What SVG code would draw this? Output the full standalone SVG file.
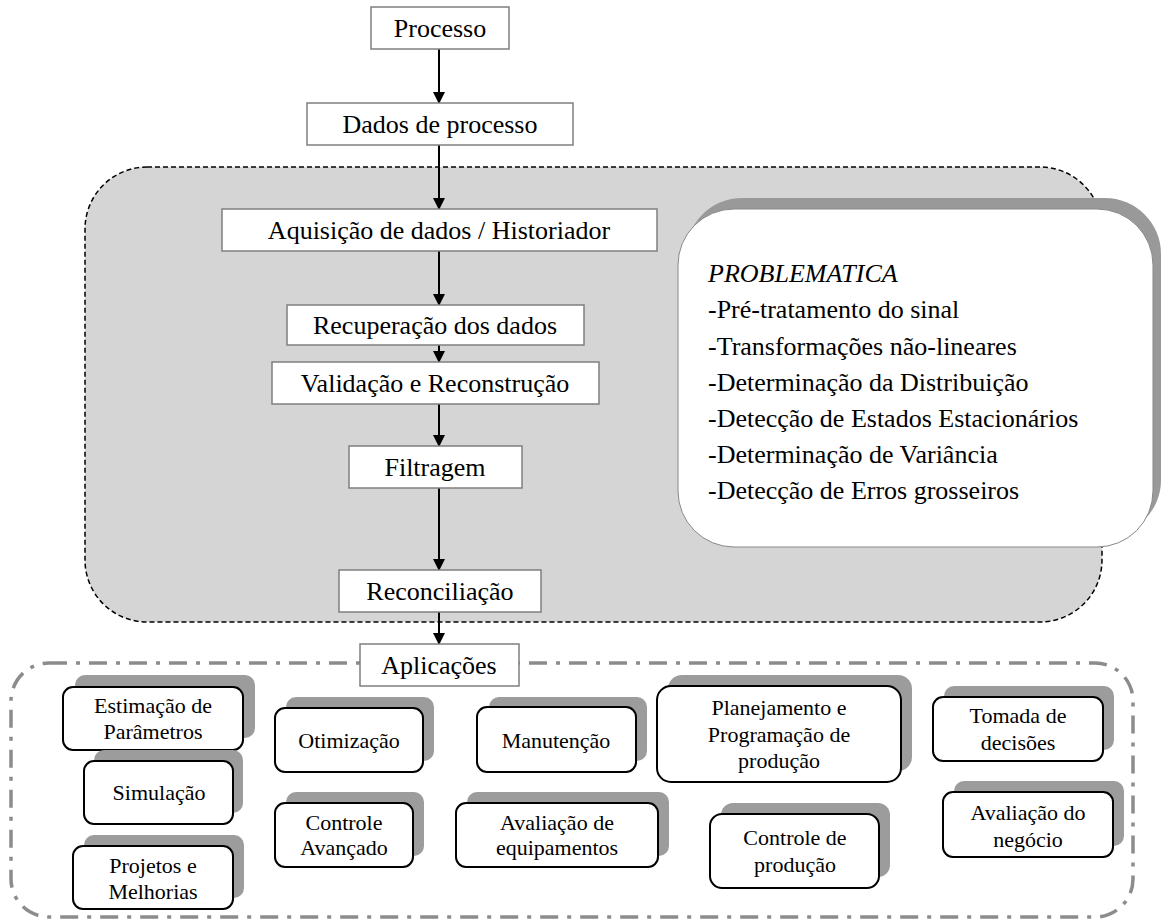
<svg xmlns="http://www.w3.org/2000/svg" width="1161" height="919" viewBox="0 0 1161 919">
<defs>
<style>
text{font-family:Tinos,"Liberation Serif","Times New Roman",serif;fill:#000}
.fb{fill:#fff;stroke:#7f7f7f;stroke-width:1.5}
.ft{font-size:26px;text-anchor:middle}
.sh{fill:#9c9c9c}
.ab{fill:#fff;stroke:#000;stroke-width:2}
.at{font-size:22px;text-anchor:middle}
.pt{font-size:26px}
.ln{stroke:#000;stroke-width:2;fill:none;marker-end:url(#head)}
</style>
<marker id="head" markerWidth="12" markerHeight="14" refX="11" refY="6" orient="auto" markerUnits="userSpaceOnUse" viewBox="0 0 12 12"><path d="M0,0 L12,6 L0,12 Z" fill="#000"/></marker>
</defs>
<rect width="1161" height="919" fill="#fff"/>
<!-- shaded processing zone and applications frame -->
<rect x="85" y="167" width="1017" height="455" rx="62" fill="#d5d5d5" stroke="#000" stroke-width="1.5" stroke-dasharray="5 3"/>
<rect x="11" y="663" width="1122" height="254" rx="38" fill="none" stroke="#8c8c8c" stroke-width="3.5" stroke-dasharray="18 9 4 9"/>
<g id="connectors">
<line class="ln" x1="439" y1="49" x2="439" y2="103"/>
<line class="ln" x1="439" y1="145" x2="439" y2="209"/>
<line class="ln" x1="439" y1="251" x2="439" y2="305"/>
<line class="ln" x1="439" y1="345" x2="439" y2="362"/>
<line class="ln" x1="439" y1="404" x2="439" y2="446"/>
<line class="ln" x1="439" y1="488" x2="439" y2="570"/>
<line class="ln" x1="439" y1="612" x2="439" y2="644"/>
</g>
<!-- main flow -->
<g id="processo"><rect class="fb" x="371" y="7" width="138" height="42"/><text class="ft" x="440" y="37">Processo</text></g>
<g id="dados-processo"><rect class="fb" x="307" y="103" width="266" height="42"/><text class="ft" x="440" y="133">Dados de processo</text></g>
<g id="aquisicao"><rect class="fb" x="222" y="209" width="435" height="42"/><text class="ft" x="439" y="239">Aquisição de dados / Historiador</text></g>
<g id="recuperacao"><rect class="fb" x="287" y="305" width="297" height="40"/><text class="ft" x="435" y="334">Recuperação dos dados</text></g>
<g id="validacao"><rect class="fb" x="272" y="362" width="327" height="42"/><text class="ft" x="435" y="392">Validação e Reconstrução</text></g>
<g id="filtragem"><rect class="fb" x="349" y="446" width="173" height="42"/><text class="ft" x="435" y="476">Filtragem</text></g>
<g id="reconciliacao"><rect class="fb" x="339" y="570" width="202" height="42"/><text class="ft" x="440" y="600">Reconciliação</text></g>
<g id="aplicacoes"><rect class="fb" x="360" y="644" width="159" height="42"/><text class="ft" x="439" y="674">Aplicações</text></g>
<!-- issues panel -->
<g id="problematica">
<rect x="686" y="198" width="475" height="338" rx="56" fill="#999"/>
<rect x="678" y="209" width="475" height="338" rx="56" fill="#fff" stroke="#888" stroke-width="1"/>
<text class="pt" x="708" y="282" font-style="italic">PROBLEMATICA</text>
<text class="pt" x="708" y="318">-Pré-tratamento do sinal</text>
<text class="pt" x="708" y="355">-Transformações não-lineares</text>
<text class="pt" x="708" y="391">-Determinação da Distribuição</text>
<text class="pt" x="708" y="427">-Detecção de Estados Estacionários</text>
<text class="pt" x="708" y="463">-Determinação de Variância</text>
<text class="pt" x="708" y="499">-Detecção de Erros grosseiros</text>
</g>
<!-- application boxes -->
<g id="estimacao"><rect class="sh" x="75" y="675" width="180" height="63" rx="10"/><rect class="ab" x="63" y="687" width="180" height="63" rx="10"/><text class="at" x="153" y="713">Estimação de</text><text class="at" x="153" y="739">Parâmetros</text></g>
<g id="simulacao"><rect class="sh" x="94" y="750" width="149" height="63" rx="10"/><rect class="ab" x="84" y="761" width="149" height="63" rx="10"/><text class="at" x="159" y="800">Simulação</text></g>
<g id="projetos"><rect class="sh" x="84" y="835" width="160" height="63" rx="10"/><rect class="ab" x="73" y="846" width="160" height="63" rx="10"/><text class="at" x="153" y="873">Projetos e</text><text class="at" x="153" y="899">Melhorias</text></g>
<g id="otimizacao"><rect class="sh" x="286" y="697" width="148" height="64" rx="10"/><rect class="ab" x="275" y="708" width="148" height="64" rx="10"/><text class="at" x="349" y="748">Otimização</text></g>
<g id="controle-avancado"><rect class="sh" x="286" y="792" width="138" height="64" rx="10"/><rect class="ab" x="275" y="803" width="138" height="64" rx="10"/><text class="at" x="344" y="830">Controle</text><text class="at" x="344" y="855">Avançado</text></g>
<g id="manutencao"><rect class="sh" x="489" y="697" width="158" height="64" rx="10"/><rect class="ab" x="477" y="707" width="159" height="65" rx="10"/><text class="at" x="556" y="748">Manutenção</text></g>
<g id="avaliacao-equipamentos"><rect class="sh" x="467" y="792" width="202" height="64" rx="10"/><rect class="ab" x="456" y="803" width="202" height="64" rx="10"/><text class="at" x="557" y="830">Avaliação de</text><text class="at" x="557" y="855">equipamentos</text></g>
<g id="planejamento"><rect class="sh" x="668" y="675" width="244" height="96" rx="14"/><rect class="ab" x="657" y="686" width="244" height="96" rx="14"/><text class="at" x="779" y="715">Planejamento e</text><text class="at" x="779" y="742">Programação de</text><text class="at" x="779" y="768">produção</text></g>
<g id="controle-producao"><rect class="sh" x="721" y="803" width="169" height="74" rx="12"/><rect class="ab" x="710" y="814" width="169" height="74" rx="12"/><text class="at" x="795" y="845">Controle de</text><text class="at" x="795" y="872">produção</text></g>
<g id="tomada-decisoes"><rect class="sh" x="944" y="686" width="170" height="64" rx="10"/><rect class="ab" x="933" y="697" width="170" height="64" rx="10"/><text class="at" x="1018" y="723">Tomada de</text><text class="at" x="1018" y="750">decisões</text></g>
<g id="avaliacao-negocio"><rect class="sh" x="954" y="781" width="170" height="65" rx="10"/><rect class="ab" x="943" y="792" width="170" height="65" rx="10"/><text class="at" x="1028" y="820">Avaliação do</text><text class="at" x="1028" y="847">negócio</text></g>
</svg>
